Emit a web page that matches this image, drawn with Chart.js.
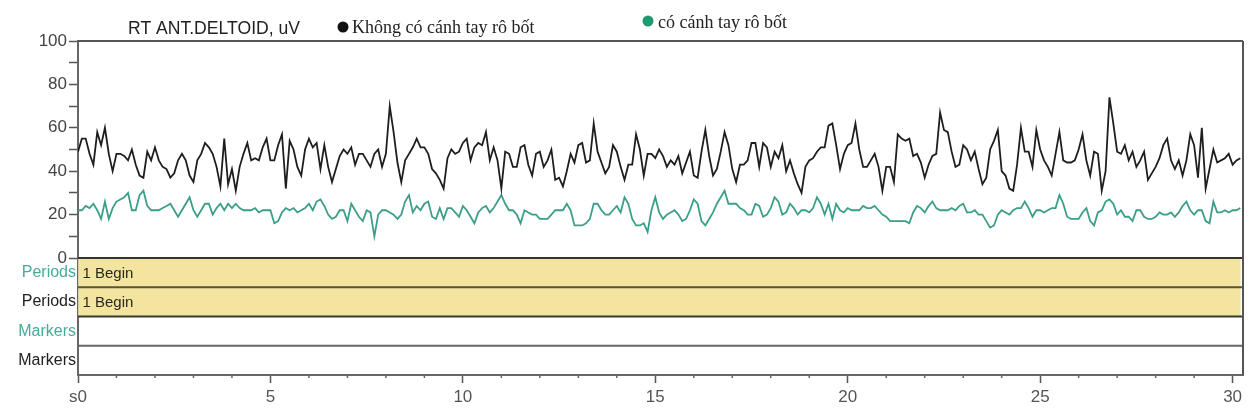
<!DOCTYPE html>
<html lang="vi">
<head>
<meta charset="UTF-8">
<title>RT ANT.DELTOID, uV</title>
<script src="https://cdn.jsdelivr.net/npm/chart.js"></script>
<style>
  html, body { margin: 0; padding: 0; background: #fff; }
  #wrap { width: 1254px; height: 419px; }
</style>
</head>
<body>
<div id="wrap"><canvas id="emg" width="1254" height="419"></canvas></div>
<script>
// EMG envelope, sampled every 0.1 s (0 .. 30.2 s)
const channelTitle = 'RT ANT.DELTOID, uV';
const seriesNames = ['Không có cánh tay rô bốt', 'có cánh tay rô bốt'];
const sampleStep = 0.1;

const withoutRobot = [
  49,55,55,48,43,58,52,60,48,40, 48,48,47,45,50,43,38,37,49,45,
  51,45,42,41,37,39,45,48,45,38, 35,45,48,53,51,48,42,33,55,34,
  41,31,42,48,53,45,46,45,51,55, 45,45,52,57,32,54,50,42,38,50,
  55,51,53,41,52,42,35,41,47,50, 48,51,43,48,48,45,42,48,
  50,42,48,70,58,44,35,45,48,51, 55,51,51,48,41,39,36,32,46,50,
  48,49,53,55,45,51,53,52,58,45, 51,45,32,49,48,42,42,51,52,43,
  38,48,49,42,45,50,36,37,33,40, 48,44,52,53,44,45,62,49,44,39,
  42,52,49,42,36,43,43,57,50,38, 48,48,46,50,47,42,
  45,43,47,39,44,49,38,37,49,59, 47,38,41,49,58,52,41,35,43,43,
  45,53,53,42,53,51,42,49,46,52, 40,45,39,34,30,42,45,46,49,51,
  51,61,62,52,41,48,52,53,62,50, 42,42,45,48,42,31,42,42,35,57,
  55,54,55,47,48,44,37,43,47,48, 67,59,58,49,42,43,52,
  50,45,49,41,34,37,50,54,59,40, 38,32,31,43,60,49,49,42,59,50,
  45,42,38,48,58,45,44,44,45,50, 57,45,38,49,48,31,40,74,62,49,
  48,52,45,49,42,45,49,36,39,42, 46,52,55,45,41,45,38,45,57,52,
  37,60,32,41,50,44,45,46,48,43, 45,46
];

const withRobot = [
  22,22,24,23,25,22,18,26,18,23, 26,27,28,30,22,22,29,31,24,22,
  22,22,23,24,25,22,19,22,25,28, 22,19,22,25,25,20,23,25,22,25,
  23,25,23,22,22,22,23,21,22,22, 22,16,17,21,23,22,23,21,22,23,
  25,22,26,27,24,20,18,19,22,22, 17,25,22,19,17,22,21,10,
  20,22,22,21,20,18,20,26,29,21, 24,22,25,26,19,18,23,18,23,23,
  21,19,24,22,19,16,21,23,24,21, 23,26,29,25,22,22,20,16,22,21,
  20,20,18,18,18,20,22,22,22,25, 22,15,15,15,16,18,25,25,22,20,
  20,22,24,21,28,25,18,15,15,16, 12,22,28,21,18,20,
  21,22,20,17,18,22,27,25,17,15, 18,21,25,28,31,25,25,25,23,22,
  20,20,25,24,19,20,23,28,26,20, 21,25,23,20,22,22,21,23,28,25,
  20,25,18,25,22,21,23,22,22,22, 24,23,23,24,22,20,19,17,17,17,
  17,17,16,21,24,23,21,24,26,23, 22,22,22,23,22,24,25,
  21,21,22,20,20,17,14,15,20,22, 21,20,22,23,23,26,23,19,22,22,
  21,22,23,23,29,25,19,18,18,18, 21,23,17,15,21,22,26,27,25,20,
  22,19,19,17,22,22,19,18,18,19, 21,20,20,21,19,21,24,26,22,20,
  22,22,17,16,26,21,21,22,21,22, 22,23
];

// event rows under the trace
const rowKeys = ['p1', 'p2', 'm1', 'm2'];
const rowNames = ['Periods', 'Periods', 'Markers', 'Markers'];
const periodRows = ['p1', 'p2'];
const periodStart = 0;
const periodEnd = 30.2;
const periodLabel = '1 Begin';

const xTicks = [0, 5, 10, 15, 20, 25, 30];
const xMinorTicks = [1,2,3,4,6,7,8,9,11,12,13,14,16,17,18,19,21,22,23,24,26,27,28,29];
const yTicks = [0, 20, 40, 60, 80, 100];

const teal = '#45ab9c';
const rowColors = [teal, '#222', teal, '#222'];

const toPoints = arr => arr.map((v, i) => ({ x: +(i * sampleStep).toFixed(1), y: v }));

const decor = {
  id: 'decor',
  afterDatasetsDraw(chart) {
    const { ctx, chartArea: a, scales } = chart;
    const rows = scales.rows;
    const xs = scales.x;

    // "1 Begin" labels on the period bars
    const meta = chart.getDatasetMeta(2);
    ctx.save();
    ctx.font = '15px "Liberation Sans", Arial, sans-serif';
    ctx.fillStyle = '#2a2a1a';
    ctx.textBaseline = 'middle';
    meta.data.forEach(el => {
      const p = el.getProps(['base', 'y'], true);
      ctx.fillText(periodLabel, p.base + 4, p.y + 1);
    });

    // row separators
    const centers = rowKeys.map((k, i) => rows.getPixelForValue(i));
    const lines = [rows.top];
    for (let i = 0; i < centers.length - 1; i++) lines.push((centers[i] + centers[i + 1]) / 2);
    const lineColors = ['#333', '#5b5632', '#3a3a2a', '#666'];
    lines.forEach((yy, i) => {
      ctx.beginPath();
      ctx.strokeStyle = lineColors[i];
      ctx.lineWidth = 2;
      ctx.moveTo(a.left, yy);
      ctx.lineTo(a.right, yy);
      ctx.stroke();
    });

    // frame: top and right
    ctx.beginPath();
    ctx.strokeStyle = '#555';
    ctx.lineWidth = 2;
    ctx.moveTo(a.left, a.top);
    ctx.lineTo(a.right, a.top);
    ctx.moveTo(a.right, a.top);
    ctx.lineTo(a.right, a.bottom);
    ctx.stroke();

    // minor second ticks
    ctx.beginPath();
    ctx.strokeStyle = '#666';
    ctx.lineWidth = 1.5;
    xMinorTicks.forEach(s => {
      const px = xs.getPixelForValue(s);
      ctx.moveTo(px, xs.top);
      ctx.lineTo(px, xs.top + 3);
    });
    ctx.stroke();
    ctx.restore();
  },
  afterDraw(chart) {
    const { ctx } = chart;
    ctx.save();
    ctx.textBaseline = 'alphabetic';
    ctx.fillStyle = '#222';
    ctx.font = '18px "Liberation Sans", Arial, sans-serif';
    ctx.fillText(channelTitle, 128, 34, 172);

    ctx.beginPath();
    ctx.fillStyle = '#111';
    ctx.arc(343, 27, 5.5, 0, Math.PI * 2);
    ctx.fill();
    ctx.fillStyle = '#222';
    ctx.font = '18px "Liberation Serif", "Times New Roman", serif';
    ctx.fillText(seriesNames[0], 352, 33, 206);

    ctx.beginPath();
    ctx.fillStyle = '#1e9a70';
    ctx.arc(648, 21, 5.5, 0, Math.PI * 2);
    ctx.fill();
    ctx.fillStyle = '#222';
    ctx.fillText(seriesNames[1], 658, 28, 150);
    ctx.restore();
  }
};

new Chart(document.getElementById('emg'), {
  data: {
    datasets: [
      {
        type: 'line',
        label: seriesNames[0],
        data: toPoints(withoutRobot),
        borderColor: '#1e1e1e',
        borderWidth: 1.8,
        pointRadius: 0,
        tension: 0,
        xAxisID: 'x',
        yAxisID: 'y'
      },
      {
        type: 'line',
        label: seriesNames[1],
        data: toPoints(withRobot),
        borderColor: '#3a9e88',
        borderWidth: 1.8,
        pointRadius: 0,
        tension: 0,
        xAxisID: 'x',
        yAxisID: 'y'
      },
      {
        type: 'bar',
        indexAxis: 'y',
        label: 'Periods',
        data: periodRows.map(r => ({ y: r, x: [periodStart, periodEnd] })),
        backgroundColor: '#f3e4a0',
        borderWidth: 0,
        barPercentage: 1,
        categoryPercentage: 1,
        xAxisID: 'x',
        yAxisID: 'rows'
      }
    ]
  },
  options: {
    responsive: false,
    animation: false,
    layout: { padding: { top: 41, right: 11, left: 0, bottom: 0 } },
    plugins: { legend: { display: false }, tooltip: { enabled: false } },
    scales: {
      x: {
        type: 'linear',
        position: 'bottom',
        min: 0,
        max: 30.27,
        border: { display: true, color: '#666', width: 2 },
        grid: { drawOnChartArea: false, tickLength: 8, tickColor: '#555', tickWidth: 1.5 },
        ticks: {
          autoSkip: false,
          maxRotation: 0,
          padding: 4,
          color: '#555',
          font: { family: 'Liberation Sans', size: 17 },
          callback: v => (v === 0 ? 's0' : v)
        },
        afterBuildTicks: s => { s.ticks = xTicks.map(v => ({ value: v })); },
        afterFit: s => { s.height = 44; }
      },
      rows: {
        type: 'category',
        labels: rowKeys,
        offset: true,
        position: 'left',
        stack: 'left',
        stackWeight: 117,
        border: { display: true, color: '#666', width: 2 },
        grid: { drawOnChartArea: false, drawTicks: false },
        ticks: {
          autoSkip: false,
          padding: 2,
          color: c => rowColors[c.index],
          font: { family: 'Liberation Sans', size: 16 },
          callback: (v, i) => rowNames[i]
        },
        afterFit: s => { s.width = 78; }
      },
      y: {
        type: 'linear',
        position: 'left',
        stack: 'left',
        stackWeight: 217,
        min: 0,
        max: 100,
        border: { display: true, color: '#666', width: 2 },
        grid: { drawOnChartArea: false, tickLength: 9, tickColor: '#555', tickWidth: 1.5 },
        ticks: {
          stepSize: 10,
          autoSkip: false,
          padding: 2,
          color: '#444',
          font: { family: 'Liberation Sans', size: 17 },
          callback: v => (yTicks.includes(v) ? v : '')
        },
        afterFit: s => { s.width = 78; }
      }
    }
  },
  plugins: [decor]
});
</script>
</body>
</html>
